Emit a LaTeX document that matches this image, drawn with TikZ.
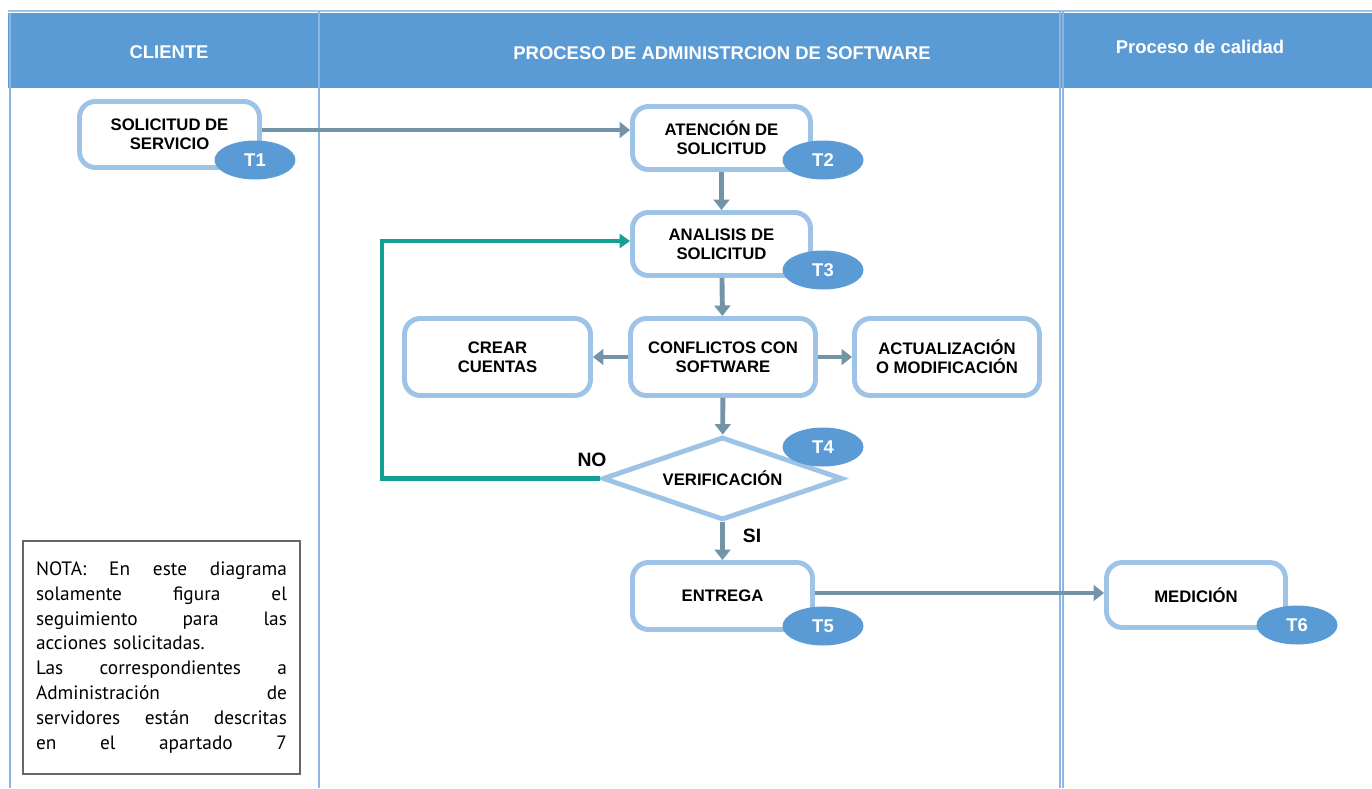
\documentclass[tikz,border=0pt]{standalone}
\usepackage{fontspec}
\setmainfont{Liberation Sans}
\newfontfamily\notafont{PT Sans}
\usetikzlibrary{shapes.geometric,arrows.meta}
\definecolor{cabecera}{HTML}{5B9BD5}
\definecolor{borde}{HTML}{9DC3E6}
\definecolor{flecha}{HTML}{7393A7}
\definecolor{retorno}{HTML}{15A096}
\definecolor{carril}{HTML}{8DB6E2}
\newcommand{\lineanota}[1]{\leavevmode\hbox to 5.02cm{#1}}

\begin{document}
\begin{tikzpicture}[x=0.02cm,y=-0.02cm]
	\useasboundingbox (0,0) rectangle (1372,788);
	% cabecera y carriles
	\fill[cabecera] (8,13) rectangle (1372,88);
	\draw[borde,line width=0.8pt] (8,11) -- (1372,11);
	\draw[carril,line width=0.6pt] (10,13) -- (10,788);
	\draw[carril,line width=0.6pt] (319,11) -- (319,788);
	\draw[carril,line width=0.6pt] (1060,11) -- (1060,788);
	\draw[carril,line width=0.6pt] (1063,11) -- (1063,788);
	\tikzstyle{titulo}=[text=white,font=\bfseries\fontsize{10.5}{12}\selectfont]
	\path (169,52) node[titulo] (cliente) {CLIENTE};
	\path (722,53) node[titulo] (proceso) {PROCESO DE ADMINISTRCION DE SOFTWARE};
	\path (1200,47) node[titulo] (calidad) {Proceso de calidad};
	% pasos
	\tikzstyle{paso}=[draw=borde,line width=2.8pt,fill=white,rounded corners=9pt,align=center,
		font=\bfseries\fontsize{9.5}{11}\selectfont,minimum width=3.6cm,minimum height=1.3cm]
	\tikzstyle{decision}=[draw=borde,line width=2.8pt,fill=white,shape=diamond,aspect=2.8,inner sep=0pt,
		font=\bfseries\fontsize{9.5}{11}\selectfont,minimum width=4.8cm,minimum height=1.66cm]
	\tikzstyle{tarea}=[fill=cabecera,shape=ellipse,text=white,inner sep=0pt,
		font=\bfseries\fontsize{10.5}{12}\selectfont,minimum width=1.62cm,minimum height=0.78cm]
	\tikzstyle{flujo}=[draw=flecha,line width=2.8pt,-{Triangle[length=6pt,width=9pt]}]
	\path (169.5,134.5) node[paso,minimum height=1.32cm] (sol) {SOLICITUD DE\\SERVICIO};
	\path (721.5,138) node[paso,minimum width=3.56cm,minimum height=1.26cm] (aten) {ATENCIÓN DE\\SOLICITUD};
	\path (721.5,244) node[paso,minimum width=3.56cm,minimum height=1.26cm] (anal) {ANALISIS DE\\SOLICITUD};
	\path (723,357) node[paso,minimum width=3.7cm,minimum height=1.54cm] (conf) {CONFLICTOS CON\\SOFTWARE};
	\path (497.5,357) node[paso,minimum width=3.72cm,minimum height=1.54cm] (crear) {CREAR\\CUENTAS};
	\path (947,357) node[paso,minimum width=3.7cm,minimum height=1.54cm] (act) {ACTUALIZACIÓN\\O MODIFICACIÓN};
	\path (722.5,478.5) node[decision] (verif) {VERIFICACIÓN};
	\path (722.5,596) node[paso,minimum height=1.34cm] (entrega) {ENTREGA};
	\path (1196,595) node[paso,minimum width=3.58cm] (medicion) {MEDICIÓN};
	% flechas
	\draw[flujo] ([yshift=0.09cm]sol.east) -- ([yshift=0.09cm]sol.east -| aten.west);
	\draw[flujo] (aten) -- (anal);
	\draw[flujo] (anal) -- (conf);
	\draw[flujo] (conf) -- (crear);
	\draw[flujo] (conf) -- (act);
	\draw[flujo] (conf) -- (verif);
	\draw[flujo] (verif) -- (entrega);
	\draw[flujo] ([yshift=0.06cm]entrega.east) -- ([yshift=0.06cm]entrega.east -| medicion.west);
	\coordinate (vuelta) at (382,478.5);
	\draw[retorno,line width=2.4pt,-{Triangle[length=6pt,width=8pt]}] (verif.west) -- (vuelta) |- ([yshift=0.06cm]anal.west);
	\path (592,460) node[font=\bfseries\fontsize{11}{13}\selectfont] (no) {NO};
	\path (752,536) node[font=\bfseries\fontsize{11}{13}\selectfont] (si) {SI};
	% numeros de tarea
	\path (255,160) node[tarea] (t1) {T1};
	\path (823,160) node[tarea] (t2) {T2};
	\path (823,270) node[tarea] (t3) {T3};
	\path (823,447) node[tarea] (t4) {T4};
	\path (823,626) node[tarea] (t5) {T5};
	\path (1297,625) node[tarea] (t6) {T6};
	% nota
	\path (161.5,657.5) node[draw=black!60,line width=0.8pt,minimum width=5.54cm,minimum height=4.66cm,
		text width=5.02cm,align=left,font=\notafont\fontsize{11}{14.2}\selectfont] (nota)
		{\lineanota{NOTA:\hfill En\hfill este\hfill diagrama}\\
		\lineanota{solamente\hfill figura\hfill el}\\
		\lineanota{seguimiento\hfill para\hfill las}\\
		acciones solicitadas.\\
		\lineanota{Las\hfill correspondientes\hfill a}\\
		\lineanota{Administración\hfill de}\\
		\lineanota{servidores\hfill están\hfill descritas}\\
		\lineanota{en\hfill el\hfill apartado\hfill 7}};
\end{tikzpicture}
\end{document}
